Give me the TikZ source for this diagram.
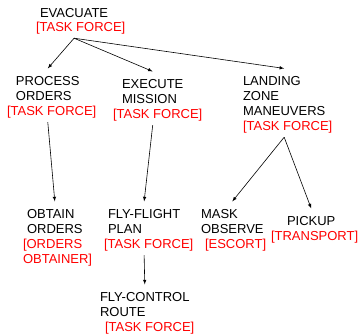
\documentclass[tikz,border=0pt]{standalone}
\usepackage{fontspec}
\setmainfont{Liberation Sans}
\begin{document}
\begin{tikzpicture}[x=1pt, y=-1pt,
		tk/.style = {anchor=base west, align=left, inner sep=0pt, outer xsep=0pt, outer ysep=7.5pt, font=\fontsize{13}{15}\selectfont},
		ag/.style = {tk, text=red, outer ysep=4.5pt},
		ar/.style = {-latex, line width=0.6pt}]
			\useasboundingbox (0,0) rectangle (358,333);
			\node[tk] at (40,17) (1) {EVACUATE};
			\node[ag] at (36,31) (1r) {[TASK FORCE]};
			\node[tk] at (16,100) (2) {PROCESS\\ORDERS};
			\node[ag] at (7,115) (2r) {[TASK FORCE]};
			\node[tk] at (122,103) (3) {EXECUTE\\MISSION};
			\node[ag] at (113,118) (3r) {[TASK FORCE]};
			\node[tk] at (243,115) (4) {LANDING\\ZONE\\MANEUVERS};
			\node[ag] at (243,130) (4r) {[TASK FORCE]};
			\node[tk] at (27,233) (5) {OBTAIN\\ORDERS};
			\node[ag] at (23,263) (5r) {[ORDERS\\OBTAINER]};
			\node[tk] at (108,233) (6) {FLY-FLIGHT\\PLAN};
			\node[ag] at (104,248) (6r) {[TASK FORCE]};
			\node[tk] at (100,316) (7) {FLY-CONTROL\\ROUTE};
			\node[ag] at (105,331) (7r) {[TASK FORCE]};
			\node[tk] at (201,233) (8) {MASK\\OBSERVE};
			\node[ag] at (205,248) (8r) {[ESCORT]};
			\node[tk] at (287,225) (9) {PICKUP};
			\node[ag] at (271,240) (9r) {[TRANSPORT]};
			\draw[ar] (1r.south -| 1.south) -- (2.north);
			\draw[ar] (1r.south -| 1.south) -- (3.north);
			\draw[ar] (1r.south -| 1.south) -- (4.north);
			\draw[ar] (2r.south -| 2.south) -- (5.north);
			\draw[ar] (3r.south -| 3.south) -- (6.north);
			\draw[ar] (6r.south -| 6.south) -- (7.north);
			\draw[ar] (4r.south -| 4.south) -- (8.north);
			\draw[ar] (4r.south -| 4.south) -- (9.north);
		\end{tikzpicture}
\end{document}
